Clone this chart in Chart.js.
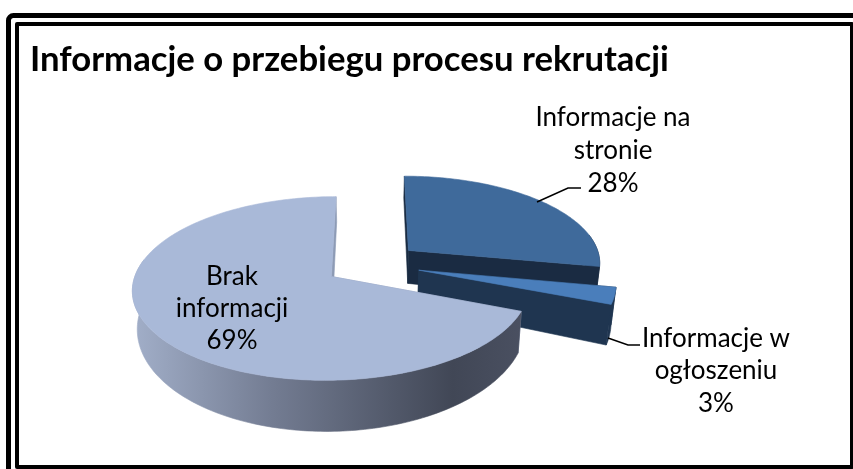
<!DOCTYPE html>
<html lang="pl">
<head>
<meta charset="utf-8">
<style>html,body{margin:0;padding:0;background:#fff}canvas{display:block}</style>
<script src="https://cdn.jsdelivr.net/npm/chart.js@4"></script>
</head>
<body>
<canvas id="c" width="853" height="469"></canvas>
<script>
const titleText = "Informacje o przebiegu procesu rekrutacji";
const categories = ["Informacje na stronie", "Informacje w ogłoszeniu", "Brak informacji"];
const labelLines = [["Informacje na", "stronie"], ["Informacje w", "ogłoszeniu"], ["Brak", "informacji"]];
const values = [28, 3, 69];
const topColors = ["#3f6a9b", "#4a7ebb", "#a9b9d8"];
const sideColors = ["#1a2b42", "#1f3550", "#8d9bb5"];
const rimStops = [
  [["#1f3a5c", 0], ["#1a2b42", 1]],
  [["#1f3550", 0], ["#1f3550", 1]],
  [["#a2afc9", 0], ["#737c92", 0.36], ["#414756", 0.82], ["#4a5061", 1]]
];

// layout of the tilted view
const RX = 193, TILT = 0.451, DEPTH = 35.6, DEPTH_NEAR = 10, PERSP = 0.128, PERSP_Z = 0.02, EXPLODE = 0.25;
const labelPos = [
  {x: 613, y: [118, 151, 184], leader: [[537, 202], [568, 188], [581, 188]]},
  {x: 716, y: [339, 371, 404], leader: [[608, 338], [628, 345], [640, 345]]},
  {x: 232, y: [277, 309, 341], leader: null}
];

function project(cx, cy, u, v, z) {
  const s = 1 / (1 - PERSP * v + PERSP_Z * z);
  return [cx + RX * u * s, cy + (RX * TILT * v + z * (DEPTH + DEPTH_NEAR * v)) * s];
}

function fillPoly(ctx, pts, fill) {
  ctx.beginPath();
  pts.forEach((p, i) => i ? ctx.lineTo(p[0], p[1]) : ctx.moveTo(p[0], p[1]));
  ctx.closePath();
  ctx.fillStyle = fill;
  ctx.strokeStyle = fill;
  ctx.lineWidth = 0.6;
  ctx.fill();
  ctx.stroke();
}

const pie3d = {
  id: "pie3d",
  beforeDraw(chart) {
    const ctx = chart.ctx;
    ctx.save();
    ctx.strokeStyle = "#000";
    ctx.lineJoin = "round";
    ctx.lineWidth = 5;
    ctx.beginPath();
    ctx.roundRect(8.5, 15.5, 870, 480, 5);
    ctx.stroke();
    ctx.lineWidth = 4;
    ctx.strokeRect(17, 24, 835, 443);
    ctx.restore();
  },
  beforeDatasetsDraw(chart) {
    const ctx = chart.ctx;
    const arcs = chart.getDatasetMeta(0).data;
    ctx.save();
    arcs.forEach((arc, i) => {
      const a0 = arc.startAngle, a1 = arc.endAngle, mid = (a0 + a1) / 2;
      const ou = EXPLODE * Math.cos(mid), ov = EXPLODE * Math.sin(mid);
      const n = Math.max(4, Math.ceil((a1 - a0) / 0.02));
      const rim = [], frontRim = [];
      for (let k = 0; k <= n; k++) {
        const a = a0 + (a1 - a0) * k / n;
        const q = [ou + Math.cos(a), ov + Math.sin(a)];
        rim.push(q);
        if (Math.sin(a) > -0.2) frontRim.push(q);
      }
      const P = (q, z) => project(arc.x, arc.y, q[0], q[1], z);
      const apex = [ou, ov];
      // radial faces
      [rim[0], rim[n]].forEach(q => {
        fillPoly(ctx, [P(apex, 0), P(q, 0), P(q, 1), P(apex, 1)], sideColors[i]);
      });
      // outer wall (only the part facing the viewer)
      const g = ctx.createLinearGradient(132, 0, 523, 0);
      rimStops[i].forEach(s => g.addColorStop(s[1], s[0]));
      const wall = frontRim.map(q => P(q, 0)).concat(frontRim.slice().reverse().map(q => P(q, 1)));
      fillPoly(ctx, wall, g);
      // top surface
      fillPoly(ctx, [P(apex, 0)].concat(rim.map(q => P(q, 0))), arc.options.backgroundColor);
    });

    // data labels and leader lines
    ctx.fillStyle = "#000";
    ctx.font = '26px Lato';
    ctx.textAlign = "center";
    ctx.textBaseline = "middle";
    const total = values.reduce((a, b) => a + b, 0);
    labelPos.forEach((lp, i) => {
      const lines = labelLines[i].concat([Math.round(values[i] / total * 100) + "%"]);
      lines.forEach((t, j) => ctx.fillText(t, lp.x, lp.y[j]));
      if (lp.leader) {
        ctx.strokeStyle = "#000";
        ctx.lineWidth = 1.5;
        ctx.beginPath();
        lp.leader.forEach((p, k) => k ? ctx.lineTo(p[0], p[1]) : ctx.moveTo(p[0], p[1]));
        ctx.stroke();
      }
    });
    ctx.restore();
    return false;
  }
};

new Chart(document.getElementById("c"), {
  type: "pie",
  data: {
    labels: categories,
    datasets: [{data: values, backgroundColor: topColors, borderWidth: 0}]
  },
  options: {
    responsive: false,
    animation: false,
    rotation: 0,
    layout: {padding: {left: 30, right: 139, top: 0, bottom: 19}},
    plugins: {
      legend: {display: false},
      tooltip: {enabled: false},
      title: {
        display: true,
        text: titleText,
        align: "start",
        color: "#000",
        font: {family: "Lato", size: 34.7, weight: "bold", lineHeight: 1.04},
        padding: {top: 42, bottom: 0}
      }
    }
  },
  plugins: [pie3d]
});
</script>
</body>
</html>
